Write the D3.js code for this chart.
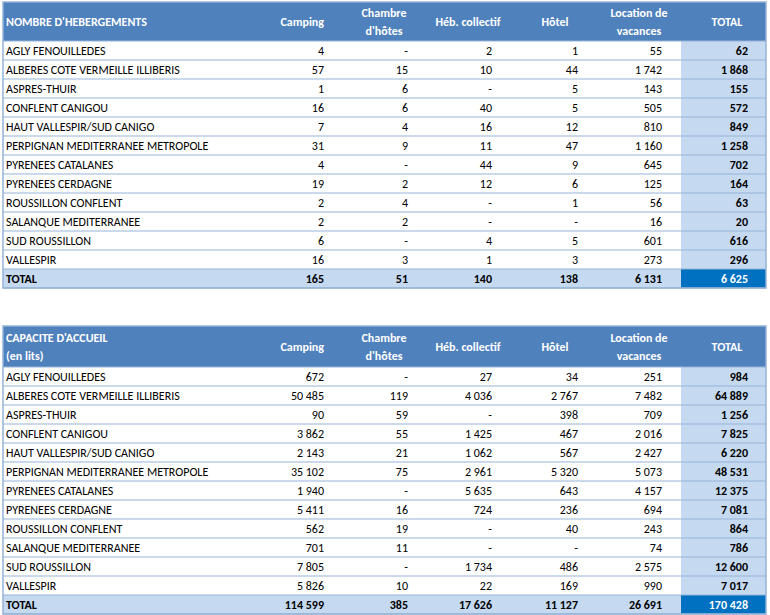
<!DOCTYPE html><html><head><meta charset="utf-8"><script src="https://cdn.jsdelivr.net/npm/d3@7"></script>
<style>body{margin:0;background:#fff}text{font-family:Carlito,"Liberation Sans",Arial,sans-serif;font-size:12px}</style></head><body><svg id="c" width="770" height="615"></svg>
<script>
const regions=["AGLY FENOUILLEDES","ALBERES COTE VERMEILLE ILLIBERIS","ASPRES-THUIR","CONFLENT CANIGOU","HAUT VALLESPIR/SUD CANIGO","PERPIGNAN MEDITERRANEE METROPOLE","PYRENEES CATALANES","PYRENEES CERDAGNE","ROUSSILLON CONFLENT","SALANQUE MEDITERRANEE","SUD ROUSSILLON","VALLESPIR"];
const colHeaders=[["Camping"],["Chambre","d'hôtes"],["Héb. collectif"],["Hôtel"],["Location de","vacances"],["TOTAL"]];
const nbRows=[["4","-","2","1","55","62"],["57","15","10","44","1 742","1 868"],["1","6","-","5","143","155"],["16","6","40","5","505","572"],["7","4","16","12","810","849"],["31","9","11","47","1 160","1 258"],["4","-","44","9","645","702"],["19","2","12","6","125","164"],["2","4","-","1","56","63"],["2","2","-","-","16","20"],["6","-","4","5","601","616"],["16","3","1","3","273","296"]];
const nbTotal=["165","51","140","138","6 131","6 625"];
const capRows=[["672","-","27","34","251","984"],["50 485","119","4 036","2 767","7 482","64 889"],["90","59","-","398","709","1 256"],["3 862","55","1 425","467","2 016","7 825"],["2 143","21","1 062","567","2 427","6 220"],["35 102","75","2 961","5 320","5 073","48 531"],["1 940","-","5 635","643","4 157","12 375"],["5 411","16","724","236","694","7 081"],["562","19","-","40","243","864"],["701","11","-","-","74","786"],["7 805","-","1 734","486","2 575","12 600"],["5 826","10","22","169","990","7 017"]];
const capTotal=["114 599","385","17 626","11 127","26 691","170 428"];
const svg=d3.select("#c");
const L=3,R=766,TC=681;
const valRight=[324,408,492,578,662,748];
const headX=[[324,"end"],[384,"middle"],[468,"middle"],[555,"middle"],[639,"middle"],[727,"middle"]];
const hdr="#4f81bd",light="#c5d9f1",line="#95b3d7",dark="#0070c0";
function table(top,hh,title,rows,tot){
  const g=svg.append("g");
  const y=d3.scaleLinear().domain([0,1]).range([top+hh,top+hh+19]);
  g.append("rect").attr("x",L).attr("y",top).attr("width",R-L).attr("height",hh).attr("fill",hdr);
  title.forEach((t,i)=>g.append("text").attr("x",L+3).attr("y",top+hh/2+4+(i-(title.length-1)/2)*18).attr("fill","#fff").attr("font-weight","bold").text(t));
  colHeaders.forEach((h,j)=>h.forEach((t,i)=>g.append("text").attr("x",headX[j][0]).attr("text-anchor",headX[j][1]).attr("y",top+hh/2+4+(i-(h.length-1)/2)*18).attr("fill","#fff").attr("font-weight","bold").text(t)));
  rows.forEach((r,i)=>{
    g.append("rect").attr("x",TC).attr("y",y(i)).attr("width",R-TC).attr("height",19).attr("fill",light);
    g.append("text").attr("x",L+3).attr("y",y(i)+14).attr("fill","#000").text(regions[i]);
    r.forEach((v,j)=>g.append("text").attr("x",valRight[j]).attr("y",y(i)+14).attr("text-anchor","end").attr("font-weight",j==5?"bold":null).text(v));
  });
  const n=rows.length;
  g.append("rect").attr("x",L).attr("y",y(n)).attr("width",R-L).attr("height",19).attr("fill",light);
  g.append("rect").attr("x",TC).attr("y",y(n)).attr("width",R-TC).attr("height",19).attr("fill",dark);
  g.append("text").attr("x",L+3).attr("y",y(n)+14).attr("font-weight","bold").text("TOTAL");
  tot.forEach((v,j)=>g.append("text").attr("x",valRight[j]).attr("y",y(n)+14).attr("text-anchor","end").attr("font-weight","bold").attr("fill",j==5?"#fff":"#000").text(v));
  for(let i=0;i<=n+1;i++) g.append("line").attr("x1",L).attr("x2",R).attr("y1",y(i)).attr("y2",y(i)).attr("stroke",line).attr("stroke-width",1.2);
  g.append("rect").attr("x",L).attr("y",top).attr("width",R-L).attr("height",y(n+1)-top).attr("fill","none").attr("stroke",line).attr("stroke-width",1.5);
}
table(2,39,["NOMBRE D'HEBERGEMENTS"],nbRows,nbTotal);
table(326,41,["CAPACITE D'ACCUEIL","(en lits)"],capRows,capTotal);
</script></body></html>
